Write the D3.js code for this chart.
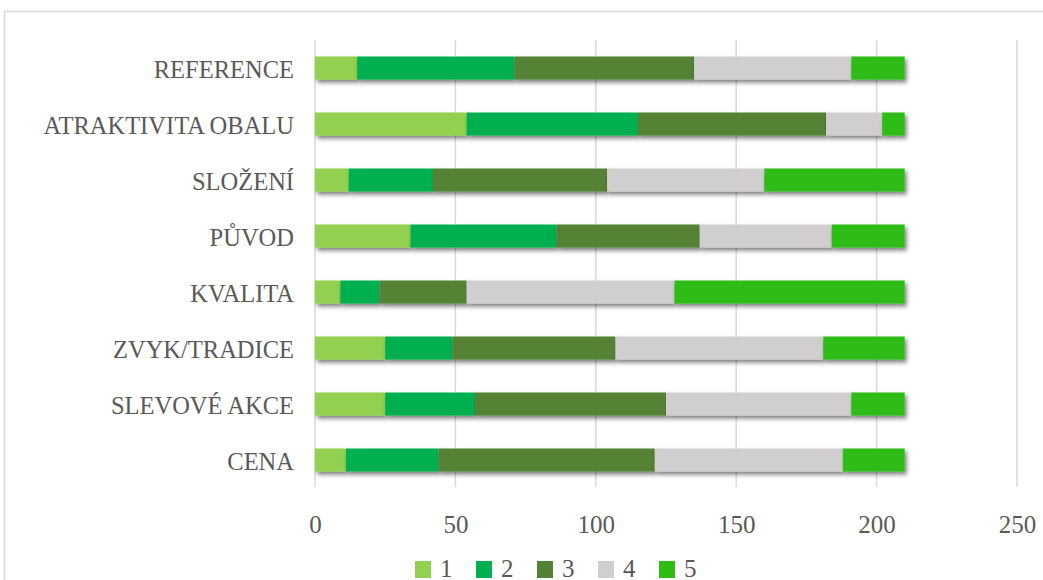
<!DOCTYPE html>
<html>
<head>
<meta charset="utf-8">
<script src="https://cdn.jsdelivr.net/npm/d3@7"></script>
<style>
  html, body { margin: 0; padding: 0; background: #fff; }
  svg { display: block; }
</style>
</head>
<body>
<div id="chart"></div>
<script>
// Categories listed top to bottom
const categories = ["REFERENCE", "ATRAKTIVITA OBALU", "SLOŽENÍ", "PŮVOD", "KVALITA", "ZVYK/TRADICE", "SLEVOVÉ AKCE", "CENA"];

// Count of answers per rating (1–5) for each category, same order as above
const rating1 = [15, 54, 12, 34, 9, 25, 25, 11];
const rating2 = [56, 61, 30, 52, 14, 24, 32, 33];
const rating3 = [64, 67, 62, 51, 31, 58, 68, 77];
const rating4 = [56, 20, 56, 47, 74, 74, 66, 67];
const rating5 = [19, 8, 50, 26, 82, 29, 19, 22];

const seriesNames = ["1", "2", "3", "4", "5"];
const seriesColors = ["#92D050", "#00B050", "#548235", "#D0CECE", "#2EBD12"];
const tickValues = [0, 50, 100, 150, 200, 250];

const W = 1043, H = 580;
const plotLeft = 315, plotRight = 1017, plotTop = 40, plotBottom = 488;
const font = "'Liberation Serif', 'Times New Roman', serif";
const textColor = "#595959";

const rows = categories.map((c, i) => ({
  category: c,
  "1": rating1[i], "2": rating2[i], "3": rating3[i], "4": rating4[i], "5": rating5[i]
}));
const stacked = d3.stack().keys(seriesNames)(rows);

const svg = d3.select("#chart").append("svg")
  .attr("width", W).attr("height", H);

const defs = svg.append("defs");
const shadow = defs.append("filter").attr("id", "barShadow")
  .attr("x", "-10%").attr("y", "-30%").attr("width", "130%").attr("height", "190%");
shadow.append("feDropShadow")
  .attr("dx", 2).attr("dy", 3).attr("stdDeviation", 2.2)
  .attr("flood-color", "#000").attr("flood-opacity", 0.5);

// outer chart frame
svg.append("rect")
  .attr("x", 4.5).attr("y", 11.5).attr("width", W + 20).attr("height", H + 20)
  .attr("fill", "none").attr("stroke", "#d9d9d9").attr("stroke-width", 1.5);

const x = d3.scaleLinear().domain([0, 250]).range([plotLeft, plotRight]);
const y = d3.scaleBand().domain(categories).range([plotTop, plotBottom])
  .paddingInner(0.589).paddingOuter(0.2945);

// vertical gridlines
svg.append("g").selectAll("line").data(tickValues).join("line")
  .attr("x1", d => x(d)).attr("x2", d => x(d))
  .attr("y1", plotTop).attr("y2", plotBottom - 1)
  .attr("stroke", "#d9d9d9").attr("stroke-width", 1.5);

// stacked bars
svg.append("g").selectAll("g").data(stacked).join("g")
  .attr("fill", (d, i) => seriesColors[i])
  .selectAll("rect").data(d => d).join("rect")
  .attr("x", d => x(d[0]))
  .attr("y", d => y(d.data.category))
  .attr("width", d => x(d[1]) - x(d[0]))
  .attr("height", y.bandwidth())
  .attr("filter", "url(#barShadow)");

// category axis
const yAxis = svg.append("g")
  .attr("transform", `translate(${plotLeft},0)`)
  .call(d3.axisLeft(y).tickSize(0).tickPadding(21));
yAxis.select(".domain").remove();
yAxis.selectAll("text")
  .attr("font-family", font).attr("font-size", 24.5).attr("fill", textColor)
  .attr("dy", null).attr("y", 10);

// value axis
const xAxis = svg.append("g")
  .attr("transform", `translate(0,${plotBottom})`)
  .call(d3.axisBottom(x).tickValues(tickValues).tickSize(0).tickPadding(0));
xAxis.select(".domain").remove();
xAxis.selectAll("text")
  .attr("font-family", font).attr("font-size", 25).attr("fill", textColor)
  .attr("dy", null).attr("y", 45);

// legend
const legend = svg.append("g");
const legendItems = legend.selectAll("g").data(seriesNames).join("g")
  .attr("transform", (d, i) => `translate(${415 + i * 61},0)`);
legendItems.append("rect")
  .attr("x", 0).attr("y", 561).attr("width", 16).attr("height", 17)
  .attr("fill", (d, i) => seriesColors[i]);
legendItems.append("text")
  .attr("x", 25).attr("y", 577)
  .attr("font-family", font).attr("font-size", 25).attr("fill", textColor)
  .text(d => d);
</script>
</body>
</html>
